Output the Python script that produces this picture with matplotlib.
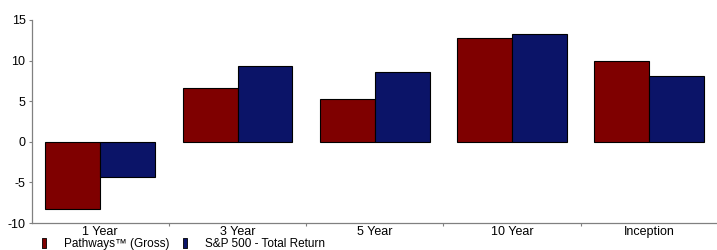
import matplotlib.pyplot as plt
import numpy as np
from matplotlib.lines import Line2D

# data
periods = ['1 Year', '3 Year', '5 Year', '10 Year', 'Inception']
pathways = [-8.33, 6.58, 5.22, 12.77, 9.90]
sp500 = [-4.35, 9.32, 8.58, 13.22, 8.05]
series_names = ['Pathways\u2122 (Gross)', 'S&P 500 - Total Return']

red = '#7f0000'
blue = '#0b1468'

plt.rcParams['font.family'] = ['Liberation Sans', 'DejaVu Sans']
plt.rcParams['axes.unicode_minus'] = False

fig = plt.figure(figsize=(7.17, 2.5), dpi=100)
ax = fig.add_axes([31.7 / 717, 27 / 250, 686 / 717, 203 / 250])

x = np.arange(len(periods))
w = 0.4
ax.bar(x - w, pathways, w, align='edge', color=red, edgecolor='black', linewidth=0.8)
ax.bar(x, sp500, w, align='edge', color=blue, edgecolor='black', linewidth=0.8)

ax.set_xlim(-0.5, len(periods) - 0.5)
ax.set_ylim(-10, 15)
ax.set_yticks([-10, -5, 0, 5, 10, 15])
ax.set_xticks(x)
ax.set_xticklabels(periods)
ax.set_xticks(np.arange(0.5, len(periods) - 0.5, 1), minor=True)

for s in ['top', 'right']:
    ax.spines[s].set_visible(False)
for s in ['left', 'bottom']:
    ax.spines[s].set_color('#808080')
    ax.spines[s].set_linewidth(0.9)

ax.tick_params(axis='y', length=2.5, width=0.8, color='#808080', labelsize=9, pad=2)
ax.tick_params(axis='x', which='major', length=0, labelsize=9, pad=2.5)
ax.tick_params(axis='x', which='minor', length=2.5, width=0.8, color='#808080')

# tall narrow square markers, like the original legend keys
key = [(-1, -2), (1, -2), (1, 2), (-1, 2), (-1, -2)]
handles = [Line2D([], [], marker=key, linestyle='none', markersize=7,
                  markerfacecolor=c, markeredgecolor='black', markeredgewidth=0.6)
           for c in (red, blue)]
fig.legend(handles, series_names, loc='center left', bbox_to_anchor=(38 / 717, 6 / 250),
           ncol=2, frameon=False, fontsize=8.5, handlelength=1.0, handletextpad=1.2,
           columnspacing=0.8, borderpad=0, borderaxespad=0)

plt.savefig('out.png', dpi=100)
